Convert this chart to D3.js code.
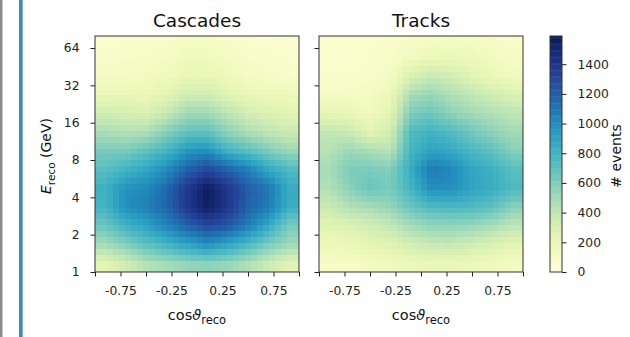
<!DOCTYPE html>
<html>
<head>
<meta charset="utf-8">
<script src="https://cdn.jsdelivr.net/npm/d3@7"></script>
<style>
  body { margin: 0; background: #fff; }
  svg { display: block; font-family: "DejaVu Sans", sans-serif; }
</style>
</head>
<body>
<svg id="chart" width="630" height="337"></svg>
<script>
// bin centres of the 2d histograms
const cosCenters = [-0.9, -0.7, -0.5, -0.3, -0.1, 0.1, 0.3, 0.5, 0.7, 0.9];
const energyCenters = [1.19, 1.68, 2.38, 3.36, 4.76, 6.73, 9.51, 13.45, 19.03, 26.91, 38.05, 53.82, 76.11];

// rows go from low to high energy, columns from cos = -1 to 1
const cascades = [
  [240, 340, 440, 490, 540, 560, 530, 460, 360, 260],
  [490, 580, 700, 790, 890, 980, 890, 760, 610, 510],
  [660, 810, 900, 1040, 1180, 1300, 1230, 1070, 870, 620],
  [800, 990, 1060, 1170, 1380, 1560, 1400, 1180, 1070, 840],
  [820, 980, 1020, 1150, 1380, 1570, 1400, 1200, 1100, 850],
  [720, 800, 880, 1000, 1180, 1300, 1180, 1050, 870, 750],
  [620, 620, 700, 800, 950, 1000, 810, 720, 610, 520],
  [480, 450, 470, 590, 700, 700, 560, 480, 410, 370],
  [340, 320, 300, 380, 510, 510, 420, 330, 280, 250],
  [200, 200, 190, 240, 340, 340, 260, 200, 180, 170],
  [110, 120, 130, 160, 200, 210, 170, 120, 100, 90],
  [80, 90, 100, 120, 150, 150, 120, 90, 70, 60],
  [60, 60, 70, 80, 100, 100, 80, 60, 50, 40]
];

const tracks = [
  [100, 110, 130, 150, 180, 200, 200, 180, 150, 120],
  [170, 190, 230, 260, 330, 370, 380, 340, 290, 240],
  [260, 290, 340, 390, 490, 540, 550, 530, 480, 410],
  [360, 450, 480, 540, 670, 750, 770, 750, 700, 570],
  [450, 570, 670, 620, 790, 1000, 990, 890, 840, 760],
  [480, 610, 610, 590, 850, 1080, 1020, 880, 820, 720],
  [440, 520, 480, 430, 790, 900, 860, 770, 700, 580],
  [400, 380, 260, 330, 750, 810, 750, 650, 560, 500],
  [230, 200, 150, 250, 610, 650, 560, 500, 460, 410],
  [110, 110, 120, 190, 490, 530, 460, 400, 340, 290],
  [60, 70, 80, 120, 300, 380, 340, 250, 190, 150],
  [60, 60, 70, 90, 140, 180, 190, 170, 130, 100],
  [60, 60, 60, 70, 90, 110, 120, 110, 90, 80]
];

const panels = [
  { title: 'Cascades', grid: cascades, left: 95 },
  { title: 'Tracks', grid: tracks, left: 319 }
];

const xTicks = [-1, -0.75, -0.5, -0.25, 0, 0.25, 0.5, 0.75, 1];
const xLabelled = [-0.75, -0.25, 0.25, 0.75];
const yTicks = [1, 2, 4, 8, 16, 32, 64];
const cbarTicks = [0, 200, 400, 600, 800, 1000, 1200, 1400];
const vMax = 1590;

const plotTop = 36, width = 204, height = 236;
const svg = d3.select('#chart');

// page decoration on the left edge
svg.append('rect').attr('x', 0).attr('y', 0).attr('width', 2.5).attr('height', 337).attr('fill', '#8c8c8c');
svg.append('rect').attr('x', 19).attr('y', 0).attr('width', 3).attr('height', 337).attr('fill', '#4688ba');
svg.append('rect').attr('x', 22).attr('y', 0).attr('width', 1).attr('height', 337).attr('fill', '#7cb3da');

const x = d3.scaleLinear().domain([-1, 1]).range([0, width]);
const y = d3.scaleLog().base(2).domain([1, 80]).range([height, 0]);
const color = d3.scaleSequential(d3.interpolateYlGnBu).domain([0, vMax]);

const logCenters = energyCenters.map(e => Math.log2(e));

function locate(arr, v) {
  if (v <= arr[0]) return [0, 0];
  if (v >= arr[arr.length - 1]) return [arr.length - 2, 1];
  const i = d3.bisectRight(arr, v) - 1;
  return [i, (v - arr[i]) / (arr[i + 1] - arr[i])];
}

// bilinear lookup, like imshow with smoothing
function sample(grid, c, l) {
  const [i, tx] = locate(cosCenters, c);
  const [j, ty] = locate(logCenters, l);
  const a = grid[j][i] * (1 - tx) + grid[j][i + 1] * tx;
  const b = grid[j + 1][i] * (1 - tx) + grid[j + 1][i + 1] * tx;
  return a * (1 - ty) + b * ty;
}

const nx = 34, ny = 40;
const logMax = Math.log2(80);
const cells = [];
for (let r = 0; r < ny; r++) {
  for (let k = 0; k < nx; k++) {
    cells.push({
      c0: -1 + 2 * k / nx, c1: -1 + 2 * (k + 1) / nx,
      l0: logMax * r / ny, l1: logMax * (r + 1) / ny
    });
  }
}

panels.forEach((p, pi) => {
  const g = svg.append('g').attr('transform', `translate(${p.left},${plotTop})`);

  g.append('g').selectAll('rect')
    .data(cells)
    .join('rect')
    .attr('x', d => x(d.c0))
    .attr('y', d => y(Math.pow(2, d.l1)))
    .attr('width', d => x(d.c1) - x(d.c0) + 0.4)
    .attr('height', d => y(Math.pow(2, d.l0)) - y(Math.pow(2, d.l1)) + 0.4)
    .attr('shape-rendering', 'crispEdges')
    .attr('fill', d => color(sample(p.grid, (d.c0 + d.c1) / 2, (d.l0 + d.l1) / 2)));

  // x axis
  const xAxis = g.append('g')
    .attr('transform', `translate(0,${height})`)
    .call(d3.axisBottom(x).tickValues(xTicks).tickSize(4.5).tickPadding(10)
      .tickFormat(d => xLabelled.includes(d) ? d.toFixed(2) : ''));
  // y axis
  const yAxis = g.append('g')
    .call(d3.axisLeft(y).tickValues(yTicks).tickSize(4.5).tickPadding(11)
      .tickFormat(d => pi === 0 ? d : ''));

  [xAxis, yAxis].forEach(a => {
    a.select('.domain').remove();
    a.selectAll('line').attr('stroke', '#222').attr('stroke-width', 1);
    a.selectAll('text').attr('fill', '#222').style('font-size', '12.3px')
      .style('font-family', '"DejaVu Sans", sans-serif');
  });

  g.append('rect')
    .attr('width', width).attr('height', height)
    .attr('fill', 'none').attr('stroke', '#333').attr('stroke-width', 1);

  g.append('text')
    .attr('x', width / 2).attr('y', -9)
    .attr('text-anchor', 'middle')
    .style('font-size', '18.5px').attr('fill', '#111')
    .text(p.title);

  const xl = g.append('text')
    .attr('x', width / 2).attr('y', height + 48)
    .attr('text-anchor', 'middle')
    .style('font-size', '14.5px').attr('fill', '#111');
  xl.append('tspan').text('cos');
  xl.append('tspan').style('font-style', 'italic').text('ϑ');
  xl.append('tspan').attr('dy', 4).style('font-size', '11.5px').text('reco');
});

// y axis title
const yl = svg.append('text')
  .attr('transform', 'translate(51,156) rotate(-90)')
  .attr('text-anchor', 'middle')
  .style('font-size', '14px').attr('fill', '#111');
yl.append('tspan').style('font-style', 'italic').text('E');
yl.append('tspan').attr('dy', 4).style('font-size', '10.5px').text('reco');
yl.append('tspan').attr('dy', -4).text(' (GeV)');

// colour bar
const cb = svg.append('g').attr('transform', `translate(550,${plotTop})`);
const cy = d3.scaleLinear().domain([0, vMax]).range([height, 0]);
const steps = d3.range(0, 200);
cb.selectAll('rect.s')
  .data(steps)
  .join('rect')
  .attr('class', 's')
  .attr('x', 0)
  .attr('width', 12)
  .attr('y', d => cy(vMax * (d + 1) / steps.length))
  .attr('height', height / steps.length + 0.5)
  .attr('fill', d => color(vMax * (d + 0.5) / steps.length));
cb.append('rect').attr('width', 12).attr('height', height)
  .attr('fill', 'none').attr('stroke', '#333').attr('stroke-width', 1);
const cAxis = cb.append('g').attr('transform', 'translate(12,0)')
  .call(d3.axisRight(cy).tickValues(cbarTicks).tickSize(4.5).tickPadding(11)
    .tickFormat(d3.format('d')));
cAxis.select('.domain').remove();
cAxis.selectAll('line').attr('stroke', '#222');
cAxis.selectAll('text').attr('fill', '#222').style('font-size', '12.3px')
  .style('font-family', '"DejaVu Sans", sans-serif');

svg.append('text')
  .attr('transform', `translate(621,156) rotate(-90)`)
  .attr('text-anchor', 'middle')
  .style('font-size', '14px').attr('fill', '#111')
  .text('# events');
</script>
</body>
</html>
